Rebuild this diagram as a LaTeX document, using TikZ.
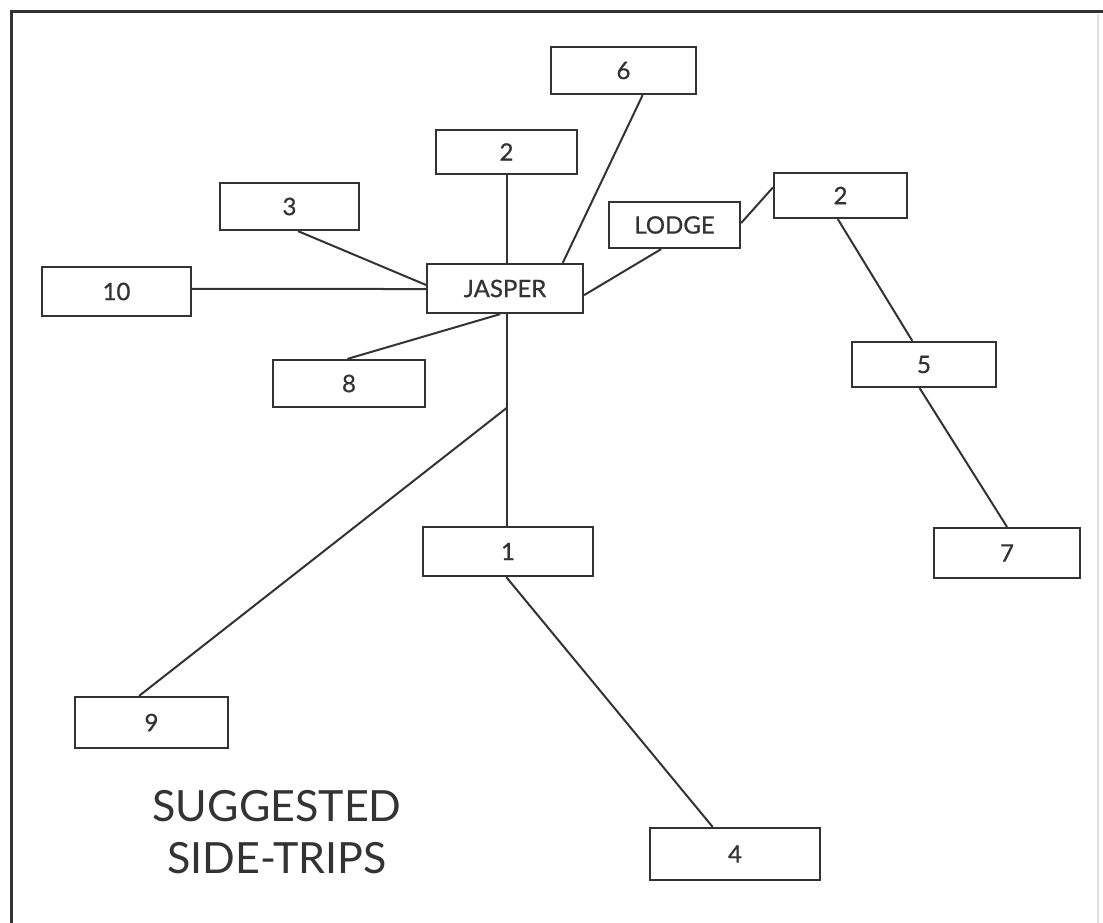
\documentclass[tikz,border=0pt]{standalone}
\usepackage{fontspec}
\setmainfont{Lato}
\newfontfamily\labfont{Lato}[FakeBold=0.8]
\usetikzlibrary{calc}
\definecolor{ink}{HTML}{333333}
\tikzset{
  box/.style={draw=ink, line width=2.2pt, rectangle, inner sep=0pt, text=ink, font=\labfont\fontsize{24}{26}\selectfont},
  link/.style={draw=ink, line width=2pt},
}
\begin{document}
\begin{tikzpicture}[x=1pt,y=-1pt]
\useasboundingbox (0,0) rectangle (1103,923);
\fill[white] (0,0) rectangle (1103,923);
% frame
\draw[ink, line width=3pt] (11,923) -- (11,12) -- (1103,12);
\draw[black!12, line width=1.5pt] (1098,14) -- (1098,923);
% boxes
\node[box, minimum width=145pt, minimum height=47pt] (six) at (623.5,70.5) {6};
\node[box, minimum width=141pt, minimum height=44pt] (twoA) at (506.5,152) {2};
\node[box, minimum width=139pt, minimum height=47pt] (three) at (289.5,206.5) {3};
\node[box, minimum width=131pt, minimum height=46pt] (lodge) at (674.5,225) {LODGE};
\node[box, minimum width=133pt, minimum height=45pt] (twoB) at (840.5,195.5) {2};
\node[box, minimum width=149pt, minimum height=49pt] (ten) at (116.5,291.5) {10};
\node[box, minimum width=156pt, minimum height=49pt] (jasper) at (505,288.5) {JASPER};
\node[box, minimum width=152pt, minimum height=47pt] (eight) at (349,383.5) {8};
\node[box, minimum width=144pt, minimum height=45pt] (five) at (924,364.5) {5};
\node[box, minimum width=170pt, minimum height=49pt] (one) at (508,551.5) {1};
\node[box, minimum width=146pt, minimum height=50pt] (seven) at (1007,553) {7};
\node[box, minimum width=153pt, minimum height=51pt] (nine) at (151.5,722.5) {9};
\node[box, minimum width=170pt, minimum height=52pt] (four) at (735,854) {4};
% title
\node[text=ink, font=\fontsize{43}{52}\selectfont, align=center] (title) at (277,832) {SUGGESTED\\SIDE-TRIPS};
% connectors
\coordinate (jtop) at ($(jasper.north west)!0.51!(jasper.north east)$);
\coordinate (jbot) at ($(jasper.south west)!0.51!(jasper.south east)$);
\draw[link] (twoA.south -| jtop) -- (jtop);
\draw[link] ($(six.south west)!0.63!(six.south east)$) -- ($(jasper.north west)!0.865!(jasper.north east)$);
\draw[link] ($(three.south west)!0.56!(three.south east)$) -- ($(jasper.north west)!0.43!(jasper.south west)$);
\draw[link] ($(ten.north east)!0.45!(ten.south east)$) -- ($(jasper.north west)!0.51!(jasper.south west)$);
\draw[link] ($(eight.north west)!0.49!(eight.north east)$) -- ($(jasper.south west)!0.47!(jasper.south east)$);
\draw[link] ($(jasper.north east)!0.63!(jasper.south east)$) -- ($(lodge.south west)!0.40!(lodge.south east)$);
\draw[link] ($(lodge.north east)!0.46!(lodge.south east)$) -- ($(twoB.north west)!0.33!(twoB.south west)$);
\draw[link] ($(twoB.south west)!0.48!(twoB.south east)$) -- ($(five.north west)!0.42!(five.north east)$);
\draw[link] ($(five.south west)!0.47!(five.south east)$) -- (seven.north);
\draw[link] (jbot) -- (jbot |- one.north);
\coordinate (br) at (jbot |- 0,408);
\draw[link] (br) -- ($(nine.north west)!0.42!(nine.north east)$);
\draw[link] ($(one.south west)!0.49!(one.south east)$) -- ($(four.north west)!0.37!(four.north east)$);
\end{tikzpicture}
\end{document}
